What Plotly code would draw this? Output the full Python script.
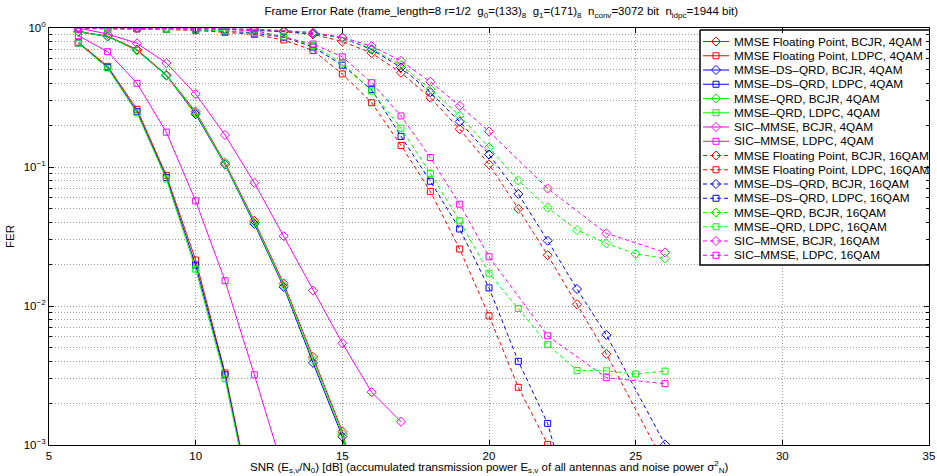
import plotly.graph_objects as go

# ---------------- 4QAM ----------------
snr_4qam_bcjr = [6, 7, 8, 9, 10, 11, 12, 13, 14, 15, 16]
fer_fp_bcjr_4 = [0.94, 0.875, 0.70, 0.46, 0.25, 0.107, 0.041, 0.0145, 0.0043, 0.00125, 0.0002]
fer_ds_bcjr_4 = [0.94, 0.87, 0.69, 0.455, 0.24, 0.104, 0.039, 0.0137, 0.0039, 0.00115, 0.00015]
fer_qrd_bcjr_4 = [0.94, 0.87, 0.69, 0.455, 0.245, 0.105, 0.040, 0.0140, 0.0041, 0.0012, 0.00018]

snr_4qam_ldpc = [6, 7, 8, 9, 10, 11, 12]
fer_fp_ldpc_4 = [0.79, 0.53, 0.26, 0.087, 0.0214, 0.0033, 0.00032]
fer_ds_ldpc_4 = [0.78, 0.52, 0.25, 0.084, 0.0197, 0.0032, 0.00030]
fer_qrd_ldpc_4 = [0.78, 0.515, 0.245, 0.082, 0.0184, 0.0030, 0.00029]

snr_sic_bcjr_4 = [6, 7, 8, 9, 10, 11, 12, 13, 14, 15, 16, 17]
fer_sic_bcjr_4 = [1.0, 0.905, 0.776, 0.56, 0.335, 0.17, 0.077, 0.0318, 0.0129, 0.0054, 0.0024, 0.00147]
snr_sic_ldpc_4 = [6, 7, 8, 9, 10, 11, 12, 13]
fer_sic_ldpc_4 = [0.88, 0.675, 0.40, 0.178, 0.057, 0.0152, 0.0032, 0.00065]

# ---------------- 16QAM ----------------
snr_16_fp_bcjr = [6, 7, 8, 9, 10, 11, 12, 13, 14, 15, 16, 17, 18, 19, 20, 21, 22, 23, 24, 26]
fer_fp_bcjr_16 = [1.0, 1.0, 1.0, 0.995, 0.99, 0.98, 0.96, 0.94, 0.90, 0.80, 0.66, 0.477, 0.315,
                  0.187, 0.1045, 0.050, 0.0232, 0.0103, 0.00452, 0.00072]
fer_ds_bcjr_16 = [1.0, 1.0, 1.0, 1.0, 0.995, 0.985, 0.97, 0.95, 0.91, 0.85, 0.70, 0.52, 0.345,
                  0.212, 0.123, 0.064, 0.0295, 0.01325, 0.0062, 0.00101]
snr_16_qrd_bcjr = [6, 7, 8, 9, 10, 11, 12, 13, 14, 15, 16, 17, 18, 19, 20, 21, 22, 23, 24, 25, 26]
fer_qrd_bcjr_16 = [1.0, 1.0, 1.0, 1.0, 0.995, 0.99, 0.975, 0.96, 0.92, 0.85, 0.71, 0.54, 0.364,
                   0.234, 0.138, 0.080, 0.051, 0.0352, 0.0282, 0.0237, 0.022]
snr_16_sic = [6, 8, 10, 12, 14, 15, 16, 17, 18, 19, 20, 22, 24, 26]
fer_sic_bcjr_16 = [1.0, 1.0, 0.995, 0.98, 0.93, 0.857, 0.74, 0.58, 0.41, 0.276, 0.18, 0.070, 0.0333, 0.0243]

snr_16_fp_ldpc = [6, 7, 8, 9, 10, 11, 12, 13, 14, 15, 16, 17, 18, 19, 20, 21, 22]
fer_fp_ldpc_16 = [0.99, 0.99, 0.985, 0.975, 0.96, 0.93, 0.90, 0.82, 0.69, 0.467, 0.29, 0.143, 0.0668,
                  0.0257, 0.0085, 0.0026, 0.00101]
snr_16_ds_ldpc = [6, 7, 8, 9, 10, 11, 12, 13, 14, 15, 16, 17, 18, 19, 20, 21, 22, 23]
fer_ds_ldpc_16 = [0.995, 0.99, 0.99, 0.98, 0.97, 0.95, 0.92, 0.86, 0.73, 0.54, 0.36, 0.166, 0.079,
                  0.0358, 0.0135, 0.0040, 0.00143, 0.00025]
snr_16_qrd_ldpc = [6, 7, 8, 9, 10, 11, 12, 13, 14, 15, 16, 17, 18, 19, 20, 21, 22, 23, 24, 25, 26]
fer_qrd_ldpc_16 = [0.995, 0.99, 0.99, 0.98, 0.97, 0.955, 0.93, 0.87, 0.746, 0.56, 0.352, 0.19, 0.090,
                   0.041, 0.0172, 0.0096, 0.0053, 0.00343, 0.00342, 0.00324, 0.0034]
fer_sic_ldpc_16 = [1.0, 0.995, 0.99, 0.96, 0.767, 0.62, 0.404, 0.233, 0.117, 0.054, 0.0226,
                   0.0061, 0.00305, 0.00276]

RED, BLUE, GREEN, MAG = "#ff0000", "#0000ff", "#00ff00", "#ff00ff"

series = [
    ("MMSE Floating Point, BCJR, 4QAM", snr_4qam_bcjr, fer_fp_bcjr_4, RED, "diamond-open", "solid"),
    ("MMSE Floating Point, LDPC, 4QAM", snr_4qam_ldpc, fer_fp_ldpc_4, RED, "square-open", "solid"),
    ("MMSE\u2013DS\u2013QRD, BCJR, 4QAM", snr_4qam_bcjr, fer_ds_bcjr_4, BLUE, "diamond-open", "solid"),
    ("MMSE\u2013DS\u2013QRD, LDPC, 4QAM", snr_4qam_ldpc, fer_ds_ldpc_4, BLUE, "square-open", "solid"),
    ("MMSE\u2013QRD, BCJR, 4QAM", snr_4qam_bcjr, fer_qrd_bcjr_4, GREEN, "diamond-open", "solid"),
    ("MMSE\u2013QRD, LDPC, 4QAM", snr_4qam_ldpc, fer_qrd_ldpc_4, GREEN, "square-open", "solid"),
    ("SIC\u2013MMSE, BCJR, 4QAM", snr_sic_bcjr_4, fer_sic_bcjr_4, MAG, "diamond-open", "solid"),
    ("SIC\u2013MMSE, LDPC, 4QAM", snr_sic_ldpc_4, fer_sic_ldpc_4, MAG, "square-open", "solid"),
    ("MMSE Floating Point, BCJR, 16QAM", snr_16_fp_bcjr, fer_fp_bcjr_16, RED, "diamond-open", "dash"),
    ("MMSE Floating Point, LDPC, 16QAM", snr_16_fp_ldpc, fer_fp_ldpc_16, RED, "square-open", "dash"),
    ("MMSE\u2013DS\u2013QRD, BCJR, 16QAM", snr_16_fp_bcjr, fer_ds_bcjr_16, BLUE, "diamond-open", "dash"),
    ("MMSE\u2013DS\u2013QRD, LDPC, 16QAM", snr_16_ds_ldpc, fer_ds_ldpc_16, BLUE, "square-open", "dash"),
    ("MMSE\u2013QRD, BCJR, 16QAM", snr_16_qrd_bcjr, fer_qrd_bcjr_16, GREEN, "diamond-open", "dash"),
    ("MMSE\u2013QRD, LDPC, 16QAM", snr_16_qrd_ldpc, fer_qrd_ldpc_16, GREEN, "square-open", "dash"),
    ("SIC\u2013MMSE, BCJR, 16QAM", snr_16_sic, fer_sic_bcjr_16, MAG, "diamond-open", "dash"),
    ("SIC\u2013MMSE, LDPC, 16QAM", snr_16_sic, fer_sic_ldpc_16, MAG, "square-open", "dash"),
]

FONT = "Liberation Sans, Arial, sans-serif"
DASH = "4px,3px"


def line_style(color, dash):
    return dict(color=color, width=1, dash=DASH if dash == "dash" else "solid")


def marker_style(color, symbol):
    size = 7 if symbol.startswith("diamond") else 6
    return dict(symbol=symbol, size=size, color=color, line=dict(width=1, color=color))


fig = go.Figure()
for name, x, y, color, symbol, dash in series:
    fig.add_trace(go.Scatter(
        x=x, y=y, name=name, mode="lines+markers", showlegend=False,
        line=line_style(color, dash), marker=marker_style(color, symbol),
    ))

# Compact legend box drawn on an overlay axis measured in pixels
# (plot area spans 49..929 px horizontally and 28..445 px vertically).
LEG_L, LEG_R, LEG_T, LEG_B = 700, 931, 30, 265
ROW0, ROW_STEP = 41.5, 14.25
fig.add_trace(go.Scatter(
    x=[LEG_L, LEG_R, LEG_R, LEG_L, LEG_L], y=[LEG_T, LEG_T, LEG_B, LEG_B, LEG_T],
    mode="lines", fill="toself", fillcolor="white",
    line=dict(color="black", width=1.5), xaxis="x2", yaxis="y2",
    showlegend=False, hoverinfo="skip",
))
annotations = []
for i, (name, _, _, color, symbol, dash) in enumerate(series):
    yy = ROW0 + i * ROW_STEP
    fig.add_trace(go.Scatter(
        x=[LEG_L + 3, LEG_L + 29], y=[yy, yy], mode="lines",
        line=line_style(color, dash), xaxis="x2", yaxis="y2",
        showlegend=False, hoverinfo="skip",
    ))
    fig.add_trace(go.Scatter(
        x=[LEG_L + 16], y=[yy], mode="markers",
        marker=marker_style(color, symbol), xaxis="x2", yaxis="y2",
        showlegend=False, hoverinfo="skip",
    ))
    annotations.append(dict(
        x=LEG_L + 32, y=yy, xref="x2", yref="y2", text=name, showarrow=False,
        xanchor="left", yanchor="middle", font=dict(family=FONT, size=11.8, color="black"),
    ))

# x-axis title placed as a paper annotation so it does not shift the plot area
annotations.append(dict(
    x=0.5, y=-0.028, xref="paper", yref="paper", yanchor="top", xanchor="center",
    showarrow=False, font=dict(family=FONT, size=11.5, color="black"),
    text=("SNR (E<sub>s,v</sub>/N<sub>0</sub>) [dB] (accumulated transmission power "
          "E<sub>s,v</sub> of all antennas and noise power \u03c3<sup>2</sup><sub>N</sub>)"),
))

grid = dict(showgrid=True, gridcolor="#9a9a9a", gridwidth=1, griddash="1px,2px")
minor_y = [m * 10 ** e for e in (-3, -2, -1) for m in range(2, 10)]

fig.update_layout(
    width=937, height=476,
    margin=dict(l=49, r=8, t=28, b=31, autoexpand=False),
    paper_bgcolor="white", plot_bgcolor="white",
    font=dict(family=FONT, size=11, color="black"),
    showlegend=False,
    annotations=annotations,
    title=dict(
        text=("Frame Error Rate (frame_length=8 r=1/2  g<sub>0</sub>=(133)<sub>8</sub>  "
              "g<sub>1</sub>=(171)<sub>8</sub>  n<sub>conv</sub>=3072 bit  "
              "n<sub>ldpc</sub>=1944 bit)"),
        x=0.535, xanchor="center", y=0.985, yanchor="top",
        font=dict(family=FONT, size=11.5),
    ),
    xaxis=dict(
        range=[5, 35], tickvals=[5, 10, 15, 20, 25, 30, 35],
        ticks="inside", ticklen=5, tickcolor="black",
        showline=True, linecolor="black", linewidth=1, mirror="ticks",
        zeroline=False, tickfont=dict(size=11.5), automargin=False,
        **grid,
    ),
    yaxis=dict(
        type="log", range=[-3, 0],
        tickvals=[0.001, 0.01, 0.1, 1],
        ticktext=["10<sup>\u22123</sup>", "10<sup>\u22122</sup>", "10<sup>\u22121</sup>", "10<sup>0</sup>"],
        ticks="inside", ticklen=5, tickcolor="black",
        showline=True, linecolor="black", linewidth=1, mirror="ticks",
        zeroline=False, tickfont=dict(size=11.5), automargin=False,
        title=dict(text="FER", standoff=6, font=dict(size=11.5)),
        minor=dict(tickvals=minor_y, ticks="inside", ticklen=3, tickcolor="black",
                   showgrid=True, gridcolor="#9a9a9a", gridwidth=1, griddash="1px,2px"),
        **grid,
    ),
    xaxis2=dict(range=[49, 929], overlaying="x", visible=False, fixedrange=True),
    yaxis2=dict(range=[445, 28], overlaying="y", visible=False, fixedrange=True),
)

fig.write_html("out.html")
